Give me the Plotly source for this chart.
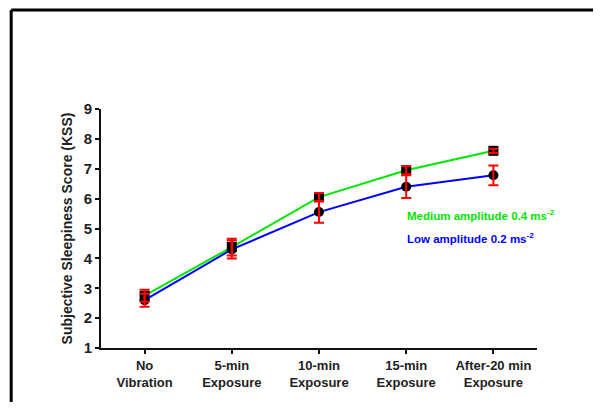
import plotly.graph_objects as go

categories = ["No<br>Vibration", "5-min<br>Exposure", "10-min<br>Exposure", "15-min<br>Exposure", "After-20 min<br>Exposure"]
medium_vals = [2.75, 4.38, 6.05, 6.95, 7.6]
medium_err = [0.2, 0.28, 0.14, 0.13, 0.07]
low_vals = [2.6, 4.3, 5.55, 6.4, 6.78]
low_err = [0.22, 0.3, 0.36, 0.38, 0.33]
y_ticks = [1, 2, 3, 4, 5, 6, 7, 8, 9]

xs = list(range(len(categories)))
FONT = "Liberation Sans"

fig = go.Figure()
fig.add_trace(go.Scatter(x=xs, y=medium_vals, mode="lines+markers",
                         line=dict(color="#00e600", width=2),
                         marker=dict(symbol="square", size=10, color="black"),
                         showlegend=False))
fig.add_trace(go.Scatter(x=xs, y=low_vals, mode="lines+markers",
                         line=dict(color="#0000ff", width=2),
                         marker=dict(symbol="circle", size=10, color="black"),
                         showlegend=False))
for vals, errs in [(medium_vals, medium_err), (low_vals, low_err)]:
    fig.add_trace(go.Scatter(x=xs, y=vals, mode="markers",
                             marker=dict(size=1, color="rgba(0,0,0,0)"),
                             error_y=dict(type="data", array=errs, color="#ff0000",
                                          thickness=2, width=5),
                             showlegend=False, hoverinfo="skip"))

fig.add_annotation(x=0.697, xref="paper", y=5.45, yref="y", xanchor="left",
                   text="Medium amplitude 0.4 ms<sup>-2</sup>", showarrow=False,
                   font=dict(family=FONT, size=11.5, color="#00e600", weight="bold"))
fig.add_annotation(x=0.697, xref="paper", y=4.68, yref="y", xanchor="left",
                   text="Low amplitude 0.2 ms<sup>-2</sup>", showarrow=False,
                   font=dict(family=FONT, size=11.5, color="#0000ff", weight="bold"))

# frame: top and left edges (the rest lies outside the picture)
fig.add_shape(type="line", xref="paper", yref="paper",
              x0=-0.206, x1=1.3, y0=1.414, y1=1.414,
              line=dict(color="black", width=3))
fig.add_shape(type="line", xref="paper", yref="paper",
              x0=-0.206, x1=-0.206, y0=-0.35, y1=1.414,
              line=dict(color="black", width=3))

fig.update_layout(
    width=585, height=394,
    margin=dict(l=93, r=56, t=101, b=54),
    paper_bgcolor="white", plot_bgcolor="white",
    font=dict(family=FONT, color="#222"),
    xaxis=dict(range=[-0.5, 4.5], tickvals=xs, ticktext=categories,
               showgrid=False, zeroline=False, showline=True, linecolor="#111",
               linewidth=2, ticks="outside", ticklen=4, tickwidth=2, tickcolor="#111",
               tickfont=dict(family=FONT, size=13, color="#222", weight="bold")),
    yaxis=dict(range=[1, 9], tickvals=y_ticks, showgrid=False, zeroline=False,
               showline=True, linecolor="#111", linewidth=2, ticks="outside",
               ticklen=4, tickwidth=2, tickcolor="#111",
               tickfont=dict(family=FONT, size=15, color="#222", weight="bold"),
               title=dict(text="Subjective Sleepiness Score (KSS)", standoff=8,
                          font=dict(family=FONT, size=14, color="#222", weight="bold"))),
)

fig.write_html("out.html")
